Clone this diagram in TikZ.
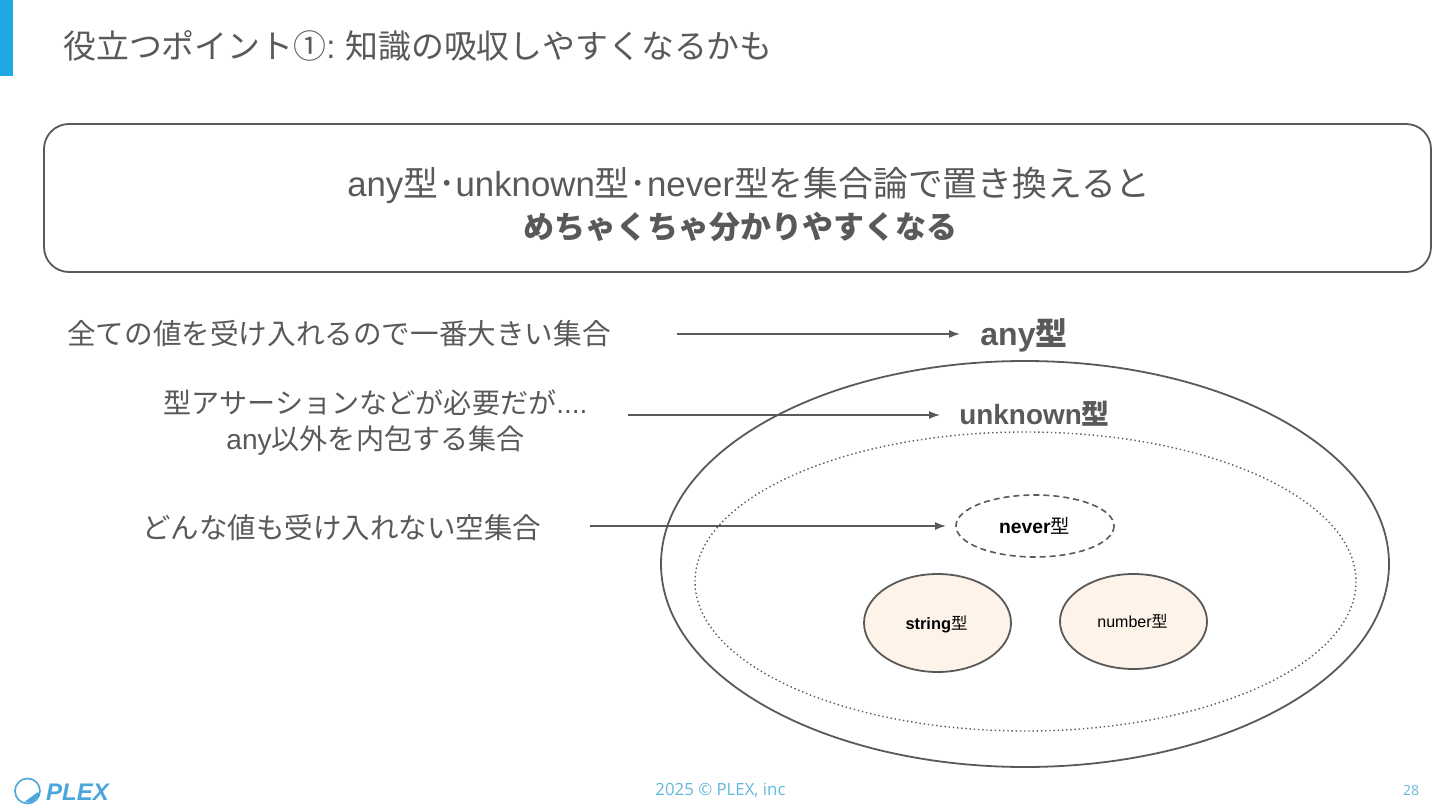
\documentclass[tikz,border=0pt]{standalone}
\usepackage{fontspec}
\setmainfont{Noto Sans CJK JP}
\newfontfamily\latf{Liberation Sans}
\newfontfamily\footf{Open Sans}
\newcommand{\lat}[1]{{\latf #1}}
\usetikzlibrary{arrows.meta}
\definecolor{ink}{HTML}{595959}
\definecolor{barblue}{HTML}{1FA9E3}
\definecolor{cream}{HTML}{FDF3E8}
\definecolor{foot}{HTML}{62B8DC}
\definecolor{logoblue}{HTML}{4BA6DB}
\tikzset{
  txt/.style={text=ink,inner sep=0pt,align=center},
  shapeline/.style={draw=ink,line width=1.8pt},
  setell/.style={shapeline},
  conn/.style={draw=ink,line width=1.3pt,-{Latex[length=11pt,width=8pt]}},
}
\begin{document}
\begin{tikzpicture}[x=1pt,y=-1pt]
\useasboundingbox (0,0) rectangle (1440,810);
\fill[barblue] (0,0) rectangle (13,76);
\node[txt,anchor=west,font=\fontsize{32.9}{38}\selectfont] (title) at (63,46) {役立つポイント①\lat{:} 知識の吸収しやすくなるかも};
\draw[shapeline,rounded corners=25pt] (44,124) rectangle (1431,272);
\node[txt,font=\fontsize{34.8}{44}\selectfont] (head) at (749,185.5) {\lat{any}型･\lat{unknown}型･\lat{never}型を集合論で置き換えると};
\node[txt,font=\fontsize{31}{44}\selectfont\bfseries] (headb) at (740,227) {めちゃくちゃ分かりやすくなる};
\node[txt,anchor=west,font=\fontsize{28.6}{32}\selectfont] (t1) at (67,334) {全ての値を受け入れるので一番大きい集合};
\node[txt,font=\fontsize{28.1}{36}\selectfont] (t2) at (375.5,423) {型アサーションなどが必要だが\lat{....}\\\lat{any}以外を内包する集合};
\node[txt,anchor=west,font=\fontsize{28.5}{32}\selectfont] (t3) at (142,528) {どんな値も受け入れない空集合};
\node[txt,font=\fontsize{32}{34}\selectfont\bfseries] (any) at (1024,335) {\lat{any}型};
\draw[setell] (1025,564) ellipse (364 and 203);
\draw[draw=ink,line width=1.4pt,dash pattern=on 1.4pt off 2.8pt] (1025.5,581.5) ellipse (330.5 and 149.5);
\node[txt,font=\fontsize{27.9}{30}\selectfont\bfseries] (unknown) at (1034.5,414) {\lat{unknown}型};
\draw[draw=ink,line width=1.6pt,dash pattern=on 6pt off 4pt] (1035,526) ellipse (79 and 31);
\node[text=black,inner sep=0pt,font=\fontsize{19.3}{22}\selectfont] (never) at (1034.5,526) {\lat{\bfseries never}型};
\draw[setell,fill=cream] (937.5,623) ellipse (73.5 and 49);
\node[text=black,inner sep=0pt,font=\fontsize{16.4}{22}\selectfont] (string) at (936.5,624) {\lat{\bfseries string}型};
\draw[setell,fill=cream] (1133.5,621.5) ellipse (73.5 and 47.5);
\node[text=black,inner sep=0pt,font=\fontsize{16}{22}\selectfont] (number) at (1132.5,621) {\lat{number}型};
\coordinate (a1) at (677,334); \coordinate (b1) at (960,334);
\coordinate (a2) at (628,415); \coordinate (b2) at (940,415);
\coordinate (a3) at (590,526); \coordinate (b3) at (946,526);
\draw[conn] (a1) -- (b1);
\draw[conn] (a2) -- (b2);
\draw[conn] (a3) -- (b3);
\draw[logoblue,line width=1.6pt] (27.5,791) circle (12.5);
\fill[logoblue] (25,801.5) -- (38,792) -- (40,795) -- (31,803) -- cycle;
\node[text=logoblue,inner sep=0pt,anchor=west,font=\latf\fontsize{24}{30}\selectfont\bfseries\itshape] (logo) at (46,792) {PLEX};
\node[text=foot,inner sep=0pt,font=\footf\fontsize{16.8}{18}\selectfont] (foot) at (720.5,790.5) {2025 © PLEX, inc};
\node[text=foot,inner sep=0pt,font=\footf\fontsize{14}{18}\selectfont] (page) at (1411,790.5) {28};
\end{tikzpicture}
\end{document}
